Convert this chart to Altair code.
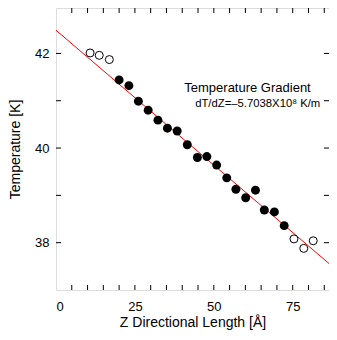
import altair as alt
import pandas as pd

# Data
z_filled = [20.0, 23.1, 26.1, 29.2, 32.3, 35.3, 38.4, 41.6, 44.8, 47.8, 50.9, 54.1, 57.0, 60.1, 63.2, 66.0, 69.2, 72.3]
t_filled = [41.44, 41.32, 40.99, 40.80, 40.59, 40.42, 40.36, 40.07, 39.80, 39.82, 39.64, 39.37, 39.13, 38.95, 39.11, 38.69, 38.65, 38.36]
z_open = [10.8, 13.7, 16.9, 75.4, 78.5, 81.5]
t_open = [42.01, 41.96, 41.87, 38.08, 37.88, 38.04]
fit_z = [0, 90]
fit_t = [42.49, 37.36]
x_tick_labels = [0, 25, 50, 75]
x_ticks = [5, 10, 15, 20, 25, 30, 35, 40, 45, 50, 55, 60, 65, 70, 75, 80, 85]
y_tick_labels = [38, 40, 42]
y_ticks = [38, 39, 40, 41, 42]
note_line1 = "Temperature Gradient"
note_line2 = "dT/dZ=\u20135.7038X10\u2078 K/m"

W, H = 273, 282
TL = 5
FONT = "Liberation Sans"

xscale = alt.Scale(domain=[0, 86.5], nice=False, zero=False)
yscale = alt.Scale(domain=[37, 42.96], nice=False, zero=False)

xaxis = alt.Axis(values=x_tick_labels, ticks=False, tickSize=0, domain=False, grid=False,
                 labelFontSize=13, labelColor="black", labelPadding=10, labelFont=FONT,
                 title="Z Directional Length [Å]", titleFontSize=14, titleFontWeight="normal",
                 titleColor="black", titlePadding=2, titleFont=FONT)
yaxis = alt.Axis(values=y_tick_labels, ticks=False, tickSize=0, domain=False, grid=False,
                 labelFontSize=13, labelColor="black", labelPadding=7, labelFont=FONT,
                 title="Temperature [K]", titleFontSize=14, titleFontWeight="normal",
                 titleColor="black", titlePadding=12, titleFont=FONT)

X = alt.X("z:Q", scale=xscale, axis=xaxis)
Y = alt.Y("T:Q", scale=yscale, axis=yaxis)

fit_df = pd.DataFrame({"z": fit_z, "T": fit_t})
filled_df = pd.DataFrame({"z": z_filled, "T": t_filled})
open_df = pd.DataFrame({"z": z_open, "T": t_open})
xt_df = pd.DataFrame({"z": x_ticks})
yt_df = pd.DataFrame({"T": y_ticks})

line = alt.Chart(fit_df).mark_line(color="#ff0000", strokeWidth=1, clip=True).encode(x=X, y=Y)

filled = alt.Chart(filled_df).mark_point(shape="circle", filled=True, size=80, color="black", opacity=1).encode(
    x=X, y=Y
)
hollow = alt.Chart(open_df).mark_point(shape="circle", filled=True, size=64, fill="white",
                                        stroke="black", strokeWidth=1, opacity=1).encode(
    x=X, y=Y
)

xt_bottom = alt.Chart(xt_df).mark_rule(color="black", strokeWidth=1).encode(
    x=X, y=alt.value(H), y2=alt.value(H - TL))
xt_top = alt.Chart(xt_df).mark_rule(color="black", strokeWidth=1).encode(
    x=X, y=alt.value(0), y2=alt.value(TL))
yt_left = alt.Chart(yt_df).mark_rule(color="black", strokeWidth=1).encode(
    y=Y, x=alt.value(0), x2=alt.value(TL))
yt_right = alt.Chart(yt_df).mark_rule(color="black", strokeWidth=1).encode(
    y=Y, x=alt.value(W), x2=alt.value(W - TL))

t1 = alt.Chart(pd.DataFrame({"label": [note_line1]})).mark_text(
    font=FONT, fontSize=13, color="black", align="center", baseline="alphabetic").encode(
    text="label:N", x=alt.value(191.5), y=alt.value(84.3))
t2 = alt.Chart(pd.DataFrame({"label": [note_line2]})).mark_text(
    font=FONT, fontSize=11.3, color="black", align="center", baseline="alphabetic").encode(
    text="label:N", x=alt.value(201.7), y=alt.value(98.7))

chart = alt.layer(line, xt_bottom, xt_top, yt_left, yt_right, filled, hollow, t1, t2).properties(
    width=W, height=H,
    autosize=alt.AutoSizeParams(type="none"),
    padding={"left": 48, "top": 0, "right": 0, "bottom": 40},
).configure_view(stroke="black", strokeWidth=1).configure(font=FONT, background="white")

chart.save("out.html", embed_options={"renderer": "svg", "actions": False})
